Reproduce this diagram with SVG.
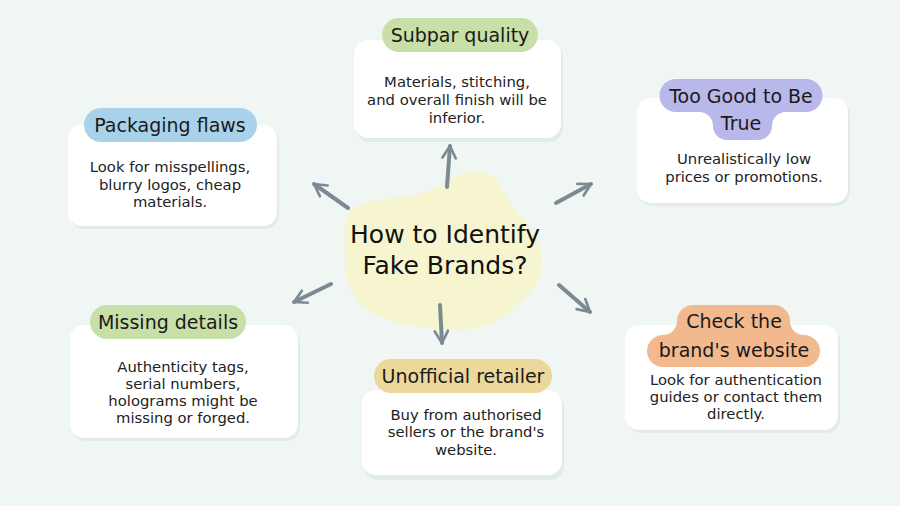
<svg xmlns="http://www.w3.org/2000/svg" width="900" height="506" viewBox="0 0 900 506">
<defs>
<style>
.card{fill:#ffffff;}
.shadow{fill:#e3ebe9;}
.lbl{font-family:"DejaVu Sans","Noto Sans",sans-serif;font-size:19px;fill:#1a1a1a;text-anchor:middle;}
.body{font-family:"DejaVu Sans","Noto Sans",sans-serif;font-size:14.8px;fill:#222222;text-anchor:middle;}
.title{font-family:"DejaVu Sans","Noto Sans",sans-serif;font-size:25px;fill:#111111;text-anchor:middle;}
.arr{stroke:#7c8a93;stroke-width:4;stroke-linecap:round;fill:none;}
</style>
<marker id="ah" viewBox="0 0 12 12" refX="10" refY="6" markerWidth="4" markerHeight="4" orient="auto" markerUnits="strokeWidth">
<path d="M1,1 L10,6 L1,11" fill="none" stroke="#7c8a93" stroke-width="2" stroke-linecap="round" stroke-linejoin="round"/>
</marker>
</defs>
<rect width="900" height="506" fill="#f0f6f4"/>

<g id="center">
<path d="M360,205 C385,195 420,200 440,185 C460,168 495,166 503,190 C510,210 535,222 541,250 C548,285 522,300 505,316 C480,336 430,331 400,323 C365,315 345,295 345,265 C345,235 340,213 360,205 Z" fill="#f7f5cf"/>
<text class="title" x="445" y="243">How to Identify</text>
<text class="title" x="445" y="274">Fake Brands?</text>
</g>

<g id="connectors">
<line class="arr" x1="447" y1="187" x2="450" y2="146" marker-end="url(#ah)"/>
<line class="arr" x1="348" y1="208" x2="314" y2="184" marker-end="url(#ah)"/>
<line class="arr" x1="556" y1="203" x2="591" y2="184" marker-end="url(#ah)"/>
<line class="arr" x1="331" y1="284" x2="294" y2="302" marker-end="url(#ah)"/>
<line class="arr" x1="440" y1="305" x2="442" y2="343" marker-end="url(#ah)"/>
<line class="arr" x1="559" y1="285" x2="590" y2="312" marker-end="url(#ah)"/>
</g>

<g id="subpar">
<rect class="shadow" x="356" y="43" width="207" height="99" rx="14"/>
<rect class="card" x="354" y="40" width="207" height="98" rx="14"/>
<rect x="382" y="18" width="156" height="34" rx="17" fill="#c8dfa7"/>
<text class="lbl" x="460" y="42">Subpar quality</text>
<text class="body" x="457" y="87">Materials, stitching,</text>
<text class="body" x="457" y="105">and overall finish will be</text>
<text class="body" x="457" y="123">inferior.</text>
</g>

<g id="toogood">
<rect class="shadow" x="639" y="101" width="211" height="105" rx="14"/>
<rect class="card" x="637" y="98" width="211" height="105" rx="14"/>
<path d="M676,79 H806 A16,16 0 0 1 806,112 H786 A14,14 0 0 0 772,126 A14,14 0 0 1 758,140 H727 A14,14 0 0 1 713,126 A14,14 0 0 0 699,112 H676 A16,16 0 0 1 676,79 Z" fill="#b9b8ea"/>
<text class="lbl" x="741" y="103">Too Good to Be</text>
<text class="lbl" x="741" y="130">True</text>
<text class="body" x="744" y="164">Unrealistically low</text>
<text class="body" x="744" y="182">prices or promotions.</text>
</g>

<g id="packaging">
<rect class="shadow" x="70" y="128" width="209" height="101" rx="14"/>
<rect class="card" x="68" y="125" width="209" height="101" rx="14"/>
<rect x="84" y="108" width="173" height="34" rx="17" fill="#a9d2ea"/>
<text class="lbl" x="170" y="132">Packaging flaws</text>
<text class="body" x="170" y="172">Look for misspellings,</text>
<text class="body" x="170" y="190">blurry logos, cheap</text>
<text class="body" x="170" y="207">materials.</text>
</g>

<g id="missing">
<rect class="shadow" x="72" y="328" width="228" height="113" rx="14"/>
<rect class="card" x="70" y="325" width="228" height="113" rx="14"/>
<rect x="90" y="305" width="156" height="34" rx="17" fill="#c8dfa7"/>
<text class="lbl" x="168" y="329">Missing details</text>
<text class="body" x="183" y="372">Authenticity tags,</text>
<text class="body" x="183" y="389">serial numbers,</text>
<text class="body" x="183" y="406">holograms might be</text>
<text class="body" x="183" y="423">missing or forged.</text>
</g>

<g id="unofficial">
<rect class="shadow" x="364" y="394" width="200" height="86" rx="14"/>
<rect class="card" x="362" y="390" width="200" height="85" rx="14"/>
<rect x="374" y="359" width="178" height="34" rx="17" fill="#ecd89a"/>
<text class="lbl" x="463" y="383">Unofficial retailer</text>
<text class="body" x="466" y="420">Buy from authorised</text>
<text class="body" x="466" y="437">sellers or the brand's</text>
<text class="body" x="466" y="455">website.</text>
</g>

<g id="checkbrand">
<rect class="shadow" x="627" y="328" width="213" height="105" rx="14"/>
<rect class="card" x="625" y="325" width="213" height="105" rx="14"/>
<path d="M693,305 H774 A16,16 0 0 1 790,321 A14,14 0 0 0 804,335 A16,16 0 0 1 804,367 H663 A16,16 0 0 1 663,335 A14,14 0 0 0 677,321 A16,16 0 0 1 693,305 Z" fill="#f2b98f"/>
<text class="lbl" x="734" y="328">Check the</text>
<text class="lbl" x="734" y="357">brand's website</text>
<text class="body" x="736" y="385">Look for authentication</text>
<text class="body" x="736" y="402">guides or contact them</text>
<text class="body" x="736" y="419">directly.</text>
</g>
</svg>
